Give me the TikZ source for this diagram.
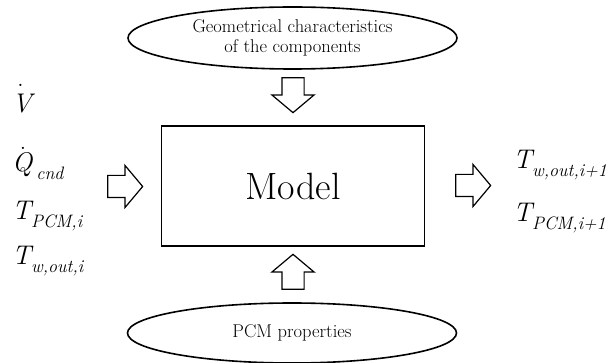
\documentclass[tikz,border=0pt]{standalone}
\usepackage{fontspec}
\usetikzlibrary{shapes.geometric,shapes.arrows}
\newcommand{\quant}[2]{\itshape #1\raisebox{-0.28em}{\fontsize{18}{20}\selectfont #2}}
\newcommand{\dotover}[3]{\rlap{\kern#2\smash{\raisebox{#3}{\normalfont.}}}#1}

\begin{document}
\begin{tikzpicture}[x=1pt,y=-1pt,
	blockarrow/.style={draw, single arrow, line width=1.2pt, inner sep=10.5pt,
		minimum height=35pt, single arrow head extend=10pt, single arrow tip angle=100},
	oval/.style={draw, ellipse, line width=1.6pt, minimum width=329pt, align=center,
		font=\fontsize{18.5}{20.5}\selectfont},
	quantity/.style={anchor=base west, inner sep=0pt, font=\fontsize{27}{30}\selectfont}]
	\useasboundingbox (0,0) rectangle (608,363);
	\node[draw, line width=1.7pt, minimum width=263pt, minimum height=120pt,
		font=\fontsize{38}{44}\selectfont] (model) at (293,186) {Model};
	\node[oval, minimum height=62pt] (geom) at (292.5,38) {Geometrical characteristics\\of the components};
	\node[oval, minimum height=60pt] (pcm) at (292,333) {PCM properties};
	% block arrows into and out of the model
	\node[blockarrow, shape border rotate=270] (ingeom) at (293,90.5) {};
	\node[blockarrow, shape border rotate=90] (inpcm) at (293,276.5) {};
	\node[blockarrow] (inleft) at (120.5,186.5) {};
	\node[blockarrow] (outright) at (468.5,185.5) {};
	% inputs
	\node[quantity] (vdot) at (12,113) {\itshape\dotover{V}{5pt}{26pt}};
	\node[quantity] (qdot) at (12,172) {\quant{\dotover{Q}{7.5pt}{22pt}}{\kern4pt cnd}};
	\node[quantity] (tpcm) at (12,220) {\quant{T}{PCM,i}};
	\node[quantity] (twout) at (12,265) {\quant{T}{w,out,i}};
	% outputs
	\node[quantity] (twnext) at (513,169) {\quant{T}{w,out,i+1}};
	\node[quantity] (tpcmnext) at (513,222) {\quant{T}{PCM,i+1}};
\end{tikzpicture}
\end{document}
